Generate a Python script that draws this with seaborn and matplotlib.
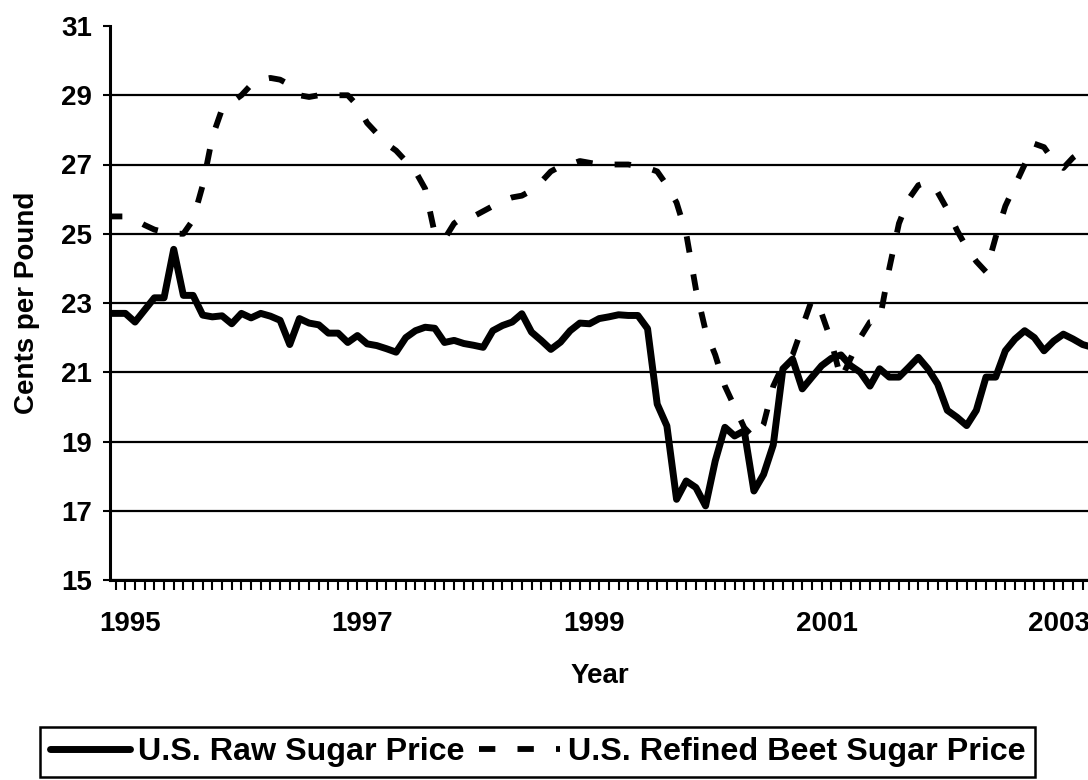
import numpy as np
import pandas as pd
import matplotlib
matplotlib.use("Agg")
import matplotlib.pyplot as plt
import seaborn as sns
from matplotlib.ticker import FixedLocator

# Monthly prices (cents per pound), first value is Oct 1994
first_month = -3
raw_price = [22.7, 22.7, 22.7, 22.45, 22.8, 23.15, 23.15, 24.55, 23.22, 23.22,
             22.65, 22.6, 22.63, 22.4, 22.7, 22.57, 22.7, 22.62, 22.5, 21.8,
             22.55, 22.42, 22.37, 22.13, 22.13, 21.86, 22.06, 21.82, 21.77, 21.68,
             21.58, 22.0, 22.2, 22.3, 22.27, 21.86, 21.92, 21.83, 21.78, 21.72,
             22.2, 22.35, 22.45, 22.69, 22.16, 21.92, 21.66, 21.87, 22.2, 22.42,
             22.4, 22.55, 22.6, 22.66, 22.64, 22.64, 22.26, 20.08, 19.45, 17.33,
             17.86, 17.67, 17.14, 18.44, 19.41, 19.16, 19.31, 17.57, 18.05, 18.9,
             21.1, 21.38, 20.52, 20.86, 21.19, 21.4, 21.5, 21.19, 21.0, 20.6,
             21.1, 20.86, 20.86, 21.14, 21.43, 21.1, 20.66, 19.9, 19.7, 19.46,
             19.9, 20.86, 20.86, 21.62, 21.96, 22.2, 22.0, 21.62, 21.9, 22.1,
             21.96, 21.8, 21.72]
refined_price = [25.5, 25.5, 25.5, 25.4, 25.25, 25.12, 25.05, 25.0, 25.0, 25.4,
                 26.4, 27.8, 28.6, 28.8, 29.0, 29.3, 29.45, 29.5, 29.45, 29.3,
                 29.0, 28.95, 29.0, 29.0, 29.0, 29.0, 28.7, 28.2, 27.9, 27.6,
                 27.4, 27.1, 26.8, 26.3, 25.0, 24.85, 25.3, 25.5, 25.5, 25.65,
                 25.8, 25.95, 26.05, 26.1, 26.25, 26.5, 26.8, 26.95, 27.0, 27.1,
                 27.05, 27.0, 27.0, 27.0, 27.0, 26.95, 26.9, 26.8, 26.4, 25.9,
                 25.0, 23.4, 22.2, 21.5, 20.6, 20.0, 19.4, 19.1, 19.5, 20.6,
                 21.2, 21.5, 22.3, 23.1, 22.7, 21.9, 20.8, 21.4, 22.0, 22.45,
                 22.5, 24.0, 25.3, 26.0, 26.4, 26.5, 26.2, 25.7, 25.1, 24.6,
                 24.2, 23.9, 24.9, 25.8, 26.4, 27.0, 27.6, 27.5, 27.1, 26.9,
                 27.2, 27.4, 27.5]
year_labels = [1995, 1997, 1999, 2001, 2003]
y_ticks = [15, 17, 19, 21, 23, 25, 27, 29, 31]
raw_name = "U.S. Raw Sugar Price"
refined_name = "U.S. Refined Beet Sugar Price"

months = np.arange(first_month, first_month + len(raw_price))
month_pos = 1995 + (months + 0.5) / 12

df = pd.DataFrame({
    "Year": np.concatenate([month_pos, month_pos]),
    "Price": raw_price + refined_price,
    "Series": [raw_name] * len(raw_price) + [refined_name] * len(refined_price),
})

sns.set_style("white")
plt.rcParams["font.family"] = ["Liberation Sans", "DejaVu Sans"]
plt.rcParams["font.weight"] = "bold"
plt.rcParams["text.color"] = "black"
plt.rcParams["axes.labelcolor"] = "black"
plt.rcParams["xtick.color"] = "black"
plt.rcParams["ytick.color"] = "black"

fig = plt.figure(figsize=(10.88, 7.8), dpi=100)
ax = fig.add_axes([110 / 1088, 200 / 780, 978 / 1088, 554 / 780])

sns.lineplot(data=df[df.Series == raw_name], x="Year", y="Price", color="black",
             linewidth=5.0, label=raw_name, ax=ax, legend=False)
sns.lineplot(data=df[df.Series == refined_name], x="Year", y="Price", color="black",
             linewidth=4.2, label=refined_name, ax=ax, legend=False)
ax.lines[0].set_solid_capstyle("round")
ax.lines[1].set_dashes((2.8, 3.8))
ax.lines[1].set_dash_capstyle("butt")

ax.set_xlim(1994.826, 2003.254)
ax.set_ylim(15, 31)
ax.set_yticks(y_ticks)
ax.set_xticks(year_labels)
ax.xaxis.set_minor_locator(FixedLocator(month_pos))

ax.yaxis.grid(True, color="black", linewidth=1.6)
ax.get_ygridlines()[-1].set_visible(False)
ax.set_axisbelow(True)

for side in ["top", "right"]:
    ax.spines[side].set_visible(False)
for side in ["left", "bottom"]:
    ax.spines[side].set_color("black")
    ax.spines[side].set_linewidth(2.2)

ax.tick_params(axis="y", left=True, direction="out", length=5, width=1.5,
               pad=8, labelsize=20)
ax.tick_params(axis="x", which="major", bottom=True, length=0, pad=22, labelsize=20)
ax.tick_params(axis="x", which="minor", bottom=True, direction="out", length=7,
               width=1.5)

ax.set_xlabel("Year", fontsize=20, fontweight="bold")
ax.set_ylabel("Cents per Pound", fontsize=20, fontweight="bold")
ax.xaxis.set_label_coords(0.501, -0.15)
ax.yaxis.set_label_coords(-0.072, 0.5)

handles, labels = ax.get_legend_handles_labels()
leg = fig.legend(handles, labels, loc="center", bbox_to_anchor=(0.494, 0.036),
                 ncol=2, frameon=True, fancybox=False, edgecolor="black",
                 framealpha=1, prop={"weight": "bold", "size": 23.2},
                 handlelength=2.5, handletextpad=0.25, columnspacing=0.45,
                 borderpad=0.3, borderaxespad=0)
leg.get_frame().set_linewidth(1.8)

fig.savefig("out.png", dpi=100)
